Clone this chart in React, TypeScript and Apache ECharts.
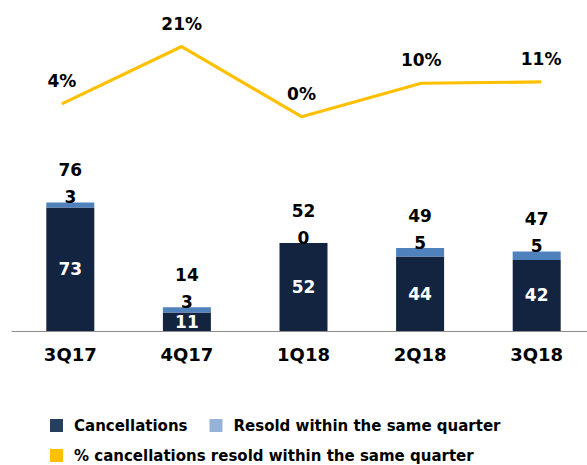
import React, { useEffect, useRef } from "react";
import * as echarts from "echarts";

const quarters = ["3Q17", "4Q17", "1Q18", "2Q18", "3Q18"];
const cancellations = [73, 11, 52, 44, 42];
const resold = [3, 3, 0, 5, 5];
const totals = [76, 14, 52, 49, 47];
const resoldPct = [3.9, 21.4, 0, 10.2, 10.6];
const pctLabels = ["4%", "21%", "0%", "10%", "11%"];

const FONT = "DejaVu Sans";

export default function App() {
  const ref = useRef<HTMLDivElement>(null);
  useEffect(() => {
    if (!ref.current) return;
    const chart = echarts.init(ref.current, null, { renderer: "svg" });
    const labelBase = { fontFamily: FONT, fontWeight: "bold" as const, fontSize: 17, color: "#000" };
    chart.setOption({
      animation: false,
      backgroundColor: "#fff",
      grid: [
        { left: 12, top: 128, width: 583, height: 203 },
        { left: 2, top: 34.7, width: 599, height: 82 },
      ],
      xAxis: [
        {
          type: "category",
          gridIndex: 0,
          data: quarters,
          axisLine: { lineStyle: { color: "#8c8c8c", width: 1 } },
          axisTick: { length: 5, lineStyle: { color: "#8c8c8c" } },
          axisLabel: { ...labelBase, fontSize: 18, margin: 14 },
        },
        { type: "category", gridIndex: 1, data: quarters, show: false },
      ],
      yAxis: [
        { type: "value", gridIndex: 0, min: 0, max: 120, show: false },
        { type: "value", gridIndex: 1, min: 0, max: 25, show: false },
      ],
      legend: [
        {
          left: 45,
          top: 413,
          itemWidth: 13,
          itemHeight: 13,
          itemGap: 22,
          icon: "rect",
          selectedMode: false,
          textStyle: { fontFamily: FONT, fontWeight: "bold", fontSize: 15, color: "#000", padding: [0, 0, 0, 6] },
          data: [
            { name: "Cancellations", itemStyle: { color: "#243F60" } },
            { name: "Resold within the same quarter", itemStyle: { color: "#95B3D7" } },
          ],
        },
        {
          left: 45,
          top: 443,
          itemWidth: 13,
          itemHeight: 13,
          icon: "rect",
          selectedMode: false,
          textStyle: { fontFamily: FONT, fontWeight: "bold", fontSize: 15, color: "#000", padding: [0, 0, 0, 6] },
          data: [
            { name: "% cancellations resold within the same quarter", itemStyle: { color: "#FFC000" } },
          ],
        },
      ],
      series: [
        {
          name: "Cancellations",
          type: "bar",
          stack: "q",
          barWidth: 48,
          itemStyle: { color: "#12243F" },
          label: { show: true, position: "inside", ...labelBase, color: "#fff" },
          data: cancellations,
        },
        {
          name: "Resold within the same quarter",
          type: "bar",
          stack: "q",
          barWidth: 48,
          itemStyle: { color: "#4F81BD" },
          label: { show: true, position: "top", distance: -3, ...labelBase },
          data: resold,
        },
        {
          name: "Total",
          type: "scatter",
          symbolSize: 0,
          silent: true,
          itemStyle: { opacity: 1, color: "#000" },
          label: { show: true, position: "top", distance: 24, ...labelBase },
          data: totals,
        },
        {
          name: "% cancellations resold within the same quarter",
          type: "line",
          xAxisIndex: 1,
          yAxisIndex: 1,
          symbol: "circle",
          symbolSize: 1,
          itemStyle: { color: "#FFC000" },
          lineStyle: { color: "#FFC000", width: 3.2 },
          label: {
            show: true,
            position: "top",
            distance: 14,
            ...labelBase,
            formatter: (p: any) => pctLabels[p.dataIndex],
          },
          data: resoldPct,
        },
      ],
    });
    return () => chart.dispose();
  }, []);
  return (
    <div style={{ position: "absolute", left: 0, top: 0, width: 587, height: 465, overflow: "hidden" }}>
      <div ref={ref} style={{ width: 620, height: 465 }} />
    </div>
  );
}
